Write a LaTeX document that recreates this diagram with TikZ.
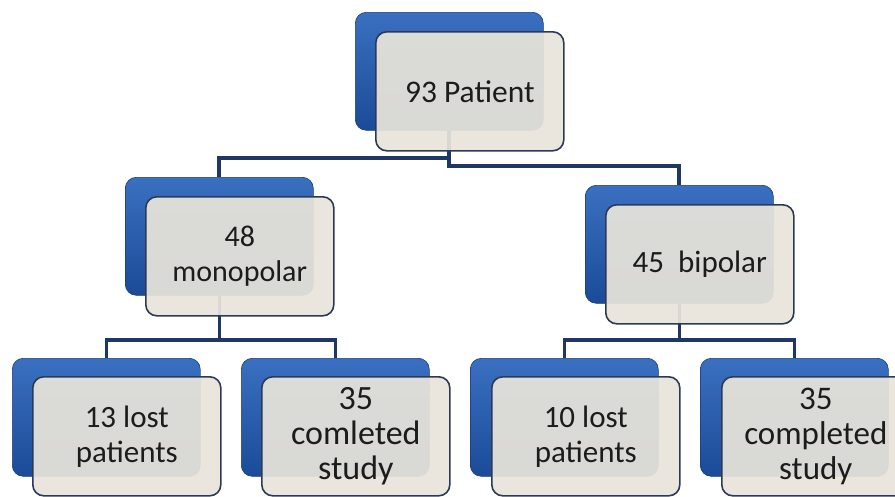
\documentclass[tikz,border=0pt]{standalone}
\usepackage{fontspec}
\setmainfont{Carlito}
\usetikzlibrary{positioning}

\definecolor{navy}{HTML}{1F3766}
\definecolor{blueTop}{HTML}{3A70C0}
\definecolor{blueMid}{HTML}{2459AA}
\definecolor{blueBot}{HTML}{1B4B98}
\definecolor{paper}{HTML}{E8E4DA}
\definecolor{rim}{HTML}{2C3A57}
\definecolor{ink}{HTML}{1C1C1C}

\begin{document}
\begin{tikzpicture}[x=1pt, y=-1pt,
  back/.style={draw=blueBot!80!black, line width=0.6pt, rounded corners=11pt,
    top color=blueTop, middle color=blueMid, bottom color=blueBot,
    minimum width=188pt, minimum height=118pt, inner sep=0pt, anchor=north west},
  card/.style={draw=rim, line width=1.6pt, rounded corners=11pt, fill=paper,
    fill opacity=0.93, text opacity=1, text=ink, minimum width=188pt,
    minimum height=119pt, inner sep=0pt, anchor=north west, align=center},
  fs/.style={font=\fontsize{#1}{35}\selectfont},
  link/.style={draw=navy, line width=3.4pt}]

\useasboundingbox (0, 0) rectangle (895, 496);

% connectors (below the boxes)
\coordinate (topfoot) at (449, 130);
\coordinate (monotop) at (219, 177);
\coordinate (bitop) at (679, 185);
\coordinate (monofoot) at (219, 295);
\coordinate (bifoot) at (679, 303);
\draw[link] (topfoot) |- (monotop |- 0, 158) -- (monotop);
\draw[link] (topfoot) |- (bitop |- 0, 166) -- (bitop);

% back boxes
\node[back] (topback) at (355, 12) {};
\node[back] (monoback) at (125, 177) {};
\node[back] (biback) at (585, 185) {};
\node[back] (lostAback) at (12, 358) {};
\node[back] (doneAback) at (241, 358) {};
\node[back] (lostBback) at (470, 358) {};
\node[back] (doneBback) at (700, 358) {};

\draw[link] (monoback.south) |- (lostAback.north |- 0, 340) -- (lostAback.north);
\draw[link] (monoback.south) |- (doneAback.north |- 0, 340) -- (doneAback.north);
\draw[link] (biback.south) |- (lostBback.north |- 0, 340) -- (lostBback.north);
\draw[link] (biback.south) |- (doneBback.north |- 0, 340) -- (doneBback.north);

% front boxes
\node[card, fs=31.5] (top) at (375, 31) {93 Patient};
\node[card, fs=30] (mono) at (145, 196) {48\\monopolar};
\node[card, fs=31] (bi) at (605, 204) {45\ \ bipolar};
\node[card, fs=31] (lostA) at (32, 376) {13 lost\\patients};
\node[card, fs=34] (doneA) at (261, 376) {35\\comleted\\study};
\node[card, fs=31] (lostB) at (491, 376) {10 lost\\patients};
\node[card, fs=33] (doneB) at (721, 376) {35\\completed\\study};

\end{tikzpicture}
\end{document}
